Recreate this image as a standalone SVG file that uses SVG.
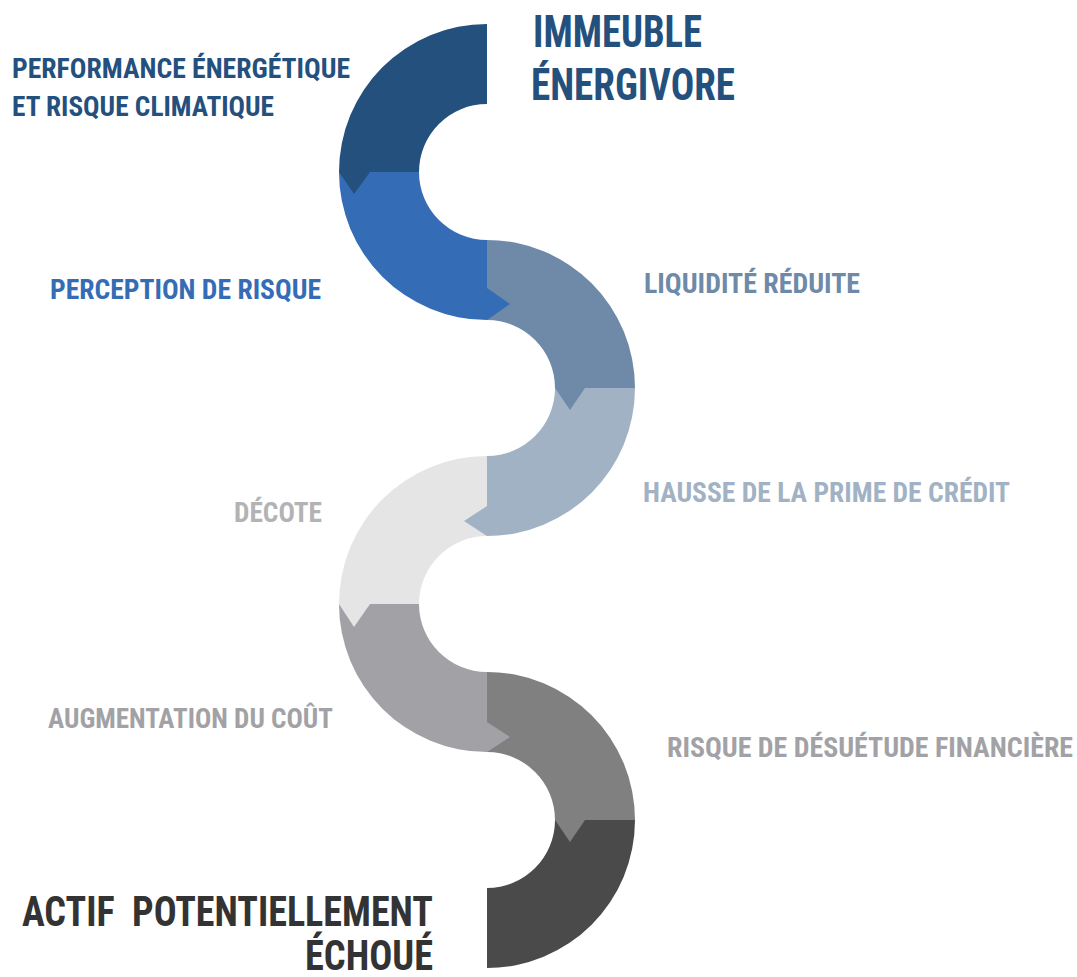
<svg xmlns="http://www.w3.org/2000/svg" width="1077" height="977" viewBox="0 0 1077 977">
  <style>
    text { font-family: "Liberation Sans Narrow", "Roboto Condensed", "DejaVu Sans Condensed", "Liberation Sans", sans-serif; font-weight: bold; font-stretch: condensed; }
    .lbl { font-size: 28px; }
    .big { font-size: 44px; }
    .end { font-size: 42px; }
    .c1 { fill: #24507E; }
    .c2 { fill: #346DB5; }
    .c3 { fill: #6E8AA8; }
    .c4 { fill: #A2B2C5; }
    .c5 { fill: #E5E5E5; }
    .c6 { fill: #A2A2A6; }
    .c7 { fill: #808080; }
    .c8 { fill: #4A4A4A; }
    .t5 { fill: #B3B3B5; }
    .t8 { fill: #333333; }
  </style>
  <rect width="1077" height="977" fill="#FFFFFF"/>

  <!-- serpentine band: quarter-annulus segments, outer radius 148, inner radius 68 -->
  <g id="segments">
    <path id="seg-immeuble" class="c1" d="M487,24 A148,148 0 0 0 339,172 L419,172 A68,68 0 0 1 487,104 Z"/>
    <path id="seg-perception" class="c2" d="M339,172 A148,148 0 0 0 487,320 L487,240 A68,68 0 0 1 419,172 Z"/>
    <path id="seg-liquidite" class="c3" d="M487,240 A148,148 0 0 1 635,388 L555,388 A68,68 0 0 0 487,320 Z"/>
    <path id="seg-hausse" class="c4" d="M635,388 A148,148 0 0 1 487,536 L487,456 A68,68 0 0 0 555,388 Z"/>
    <path id="seg-decote" class="c5" d="M487,456 A148,148 0 0 0 339,604 L419,604 A68,68 0 0 1 487,536 Z"/>
    <path id="seg-cout" class="c6" d="M339,604 A148,148 0 0 0 487,752 L487,672 A68,68 0 0 1 419,604 Z"/>
    <path id="seg-desuetude" class="c7" d="M487,672 A148,148 0 0 1 635,820 L555,820 A68,68 0 0 0 487,752 Z"/>
    <path id="seg-actif" class="c8" d="M635,820 A148,148 0 0 1 487,968 L487,888 A68,68 0 0 0 555,820 Z"/>
  </g>

  <!-- arrow tips pointing from each segment into the next -->
  <g id="connectors">
    <polygon class="c1" points="339,172 370,172 354,194"/>
    <polygon class="c2" points="487,288 487,320 510,304"/>
    <polygon class="c3" points="555,388 585,388 570,410"/>
    <polygon class="c4" points="487,506 487,536 464,521"/>
    <polygon class="c5" points="339,604 370,604 354,627"/>
    <polygon class="c6" points="487,722 487,752 510,737"/>
    <polygon class="c7" points="555,820 585,820 570,842"/>
  </g>

  <g id="label-immeuble">
    <text class="big c1" x="533" y="47" textLength="169" lengthAdjust="spacingAndGlyphs">IMMEUBLE</text>
    <text class="big c1" x="531" y="100" textLength="204" lengthAdjust="spacingAndGlyphs">ÉNERGIVORE</text>
  </g>
  <g id="label-performance">
    <text class="lbl c1" x="12" y="78" textLength="338" lengthAdjust="spacingAndGlyphs">PERFORMANCE ÉNERGÉTIQUE</text>
    <text class="lbl c1" x="12" y="116" textLength="262" lengthAdjust="spacingAndGlyphs">ET RISQUE CLIMATIQUE</text>
  </g>
  <g id="label-perception">
    <text class="lbl c2" x="50" y="299" textLength="271" lengthAdjust="spacingAndGlyphs">PERCEPTION DE RISQUE</text>
  </g>
  <g id="label-liquidite">
    <text class="lbl c3" x="644" y="293" textLength="216" lengthAdjust="spacingAndGlyphs">LIQUIDITÉ RÉDUITE</text>
  </g>
  <g id="label-hausse">
    <text class="lbl c4" x="643" y="502" textLength="367" lengthAdjust="spacingAndGlyphs">HAUSSE DE LA PRIME DE CRÉDIT</text>
  </g>
  <g id="label-decote">
    <text class="lbl t5" x="234" y="522" textLength="88" lengthAdjust="spacingAndGlyphs">DÉCOTE</text>
  </g>
  <g id="label-cout">
    <text class="lbl c6" x="48" y="728" textLength="285" lengthAdjust="spacingAndGlyphs">AUGMENTATION DU COÛT</text>
  </g>
  <g id="label-desuetude">
    <text class="lbl c6" x="667" y="757" textLength="406" lengthAdjust="spacingAndGlyphs">RISQUE DE DÉSUÉTUDE FINANCIÈRE</text>
  </g>
  <g id="label-actif">
    <text class="end t8" x="22" y="926" textLength="411" lengthAdjust="spacingAndGlyphs" style="white-space:pre">ACTIF  POTENTIELLEMENT</text>
    <text class="end t8" x="305" y="970" textLength="128" lengthAdjust="spacingAndGlyphs">ÉCHOUÉ</text>
  </g>
</svg>
